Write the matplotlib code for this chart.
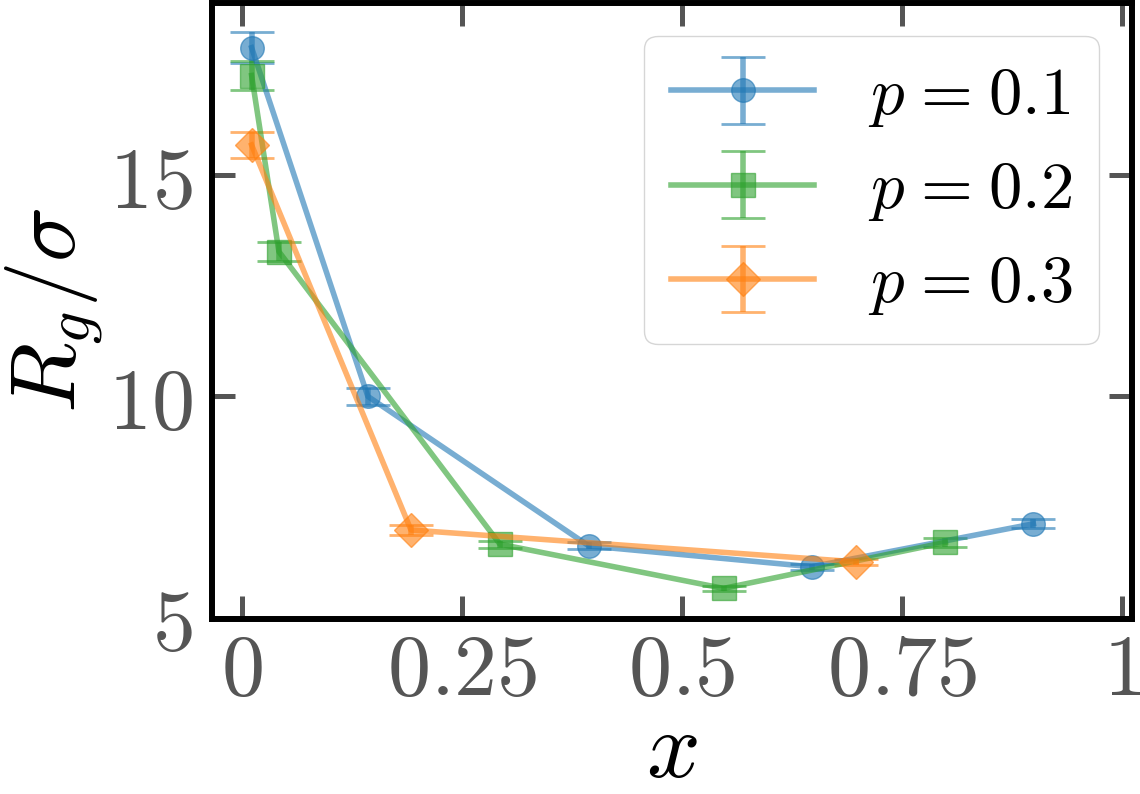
import matplotlib
matplotlib.use("Agg")
import matplotlib.pyplot as plt

plt.rcParams['mathtext.fontset'] = 'cm'
plt.rcParams['font.family'] = ['DejaVu Serif']

# Data
labels = [r'$p\hspace{0.08}=\hspace{0.08}0.1$', r'$p\hspace{0.08}=\hspace{0.08}0.2$',
          r'$p\hspace{0.08}=\hspace{0.08}0.3$']
x_p1 = [0.011, 0.143, 0.394, 0.647, 0.899]
y_p1 = [17.88, 10.0, 6.62, 6.15, 7.12]
e_p1 = [0.35, 0.19, 0.08, 0.07, 0.10]

x_p2 = [0.011, 0.042, 0.293, 0.547, 0.799]
y_p2 = [17.25, 13.27, 6.66, 5.66, 6.70]
e_p2 = [0.33, 0.22, 0.08, 0.06, 0.10]

x_p3 = [0.011, 0.192, 0.698]
y_p3 = [15.68, 6.98, 6.26]
e_p3 = [0.29, 0.11, 0.07]

xticks = [0, 0.25, 0.5, 0.75, 1]
xticklabels = [r'$0$', r'$0.25$', r'$0.5$', r'$0.75$', r'$1$']
yticks = [5, 10, 15]
yticklabels = [r'$5$', r'$10$', r'$15$']

W, H = 1140, 794
fig = plt.figure(figsize=(W / 100, H / 100), dpi=100)
ax = fig.add_axes([212 / W, (H - 618.5) / H, 920 / W, 616 / H])

series = [
    (x_p1, y_p1, e_p1, 'o', 'tab:blue', labels[0]),
    (x_p2, y_p2, e_p2, 's', 'tab:green', labels[1]),
    (x_p3, y_p3, e_p3, 'D', 'tab:orange', labels[2]),
]
for xs, ys, es, m, c, lab in series:
    ax.errorbar(xs, ys, yerr=es, marker=m, color=c, ms=17,
                lw=4, elinewidth=4, capsize=16, capthick=2, alpha=0.6, label=lab)

ax.set_xlim(-0.034, 1.011)
ax.set_ylim(4.98, 18.9)
ax.set_xticks(xticks)
ax.set_xticklabels(xticklabels)
ax.set_yticks(yticks)
ax.set_yticklabels(yticklabels)

ax.tick_params(direction='in', top=True, right=True, length=16.5, width=3.6,
               color='#555555', labelcolor='#555555', labelsize=62)
ax.tick_params(axis='x', pad=8)
ax.tick_params(axis='y', pad=14)
for s in ax.spines.values():
    s.set_linewidth(4.3)
    s.set_color('black')

ax.set_xlabel(r'$x$', fontsize=68, labelpad=-5)
ax.set_ylabel(r'$R_g/\sigma$', fontsize=66, labelpad=2)

ax.legend(loc='upper right', fontsize=48, handlelength=2.15, labelspacing=0.42)

fig.savefig('out.png', dpi=100)
